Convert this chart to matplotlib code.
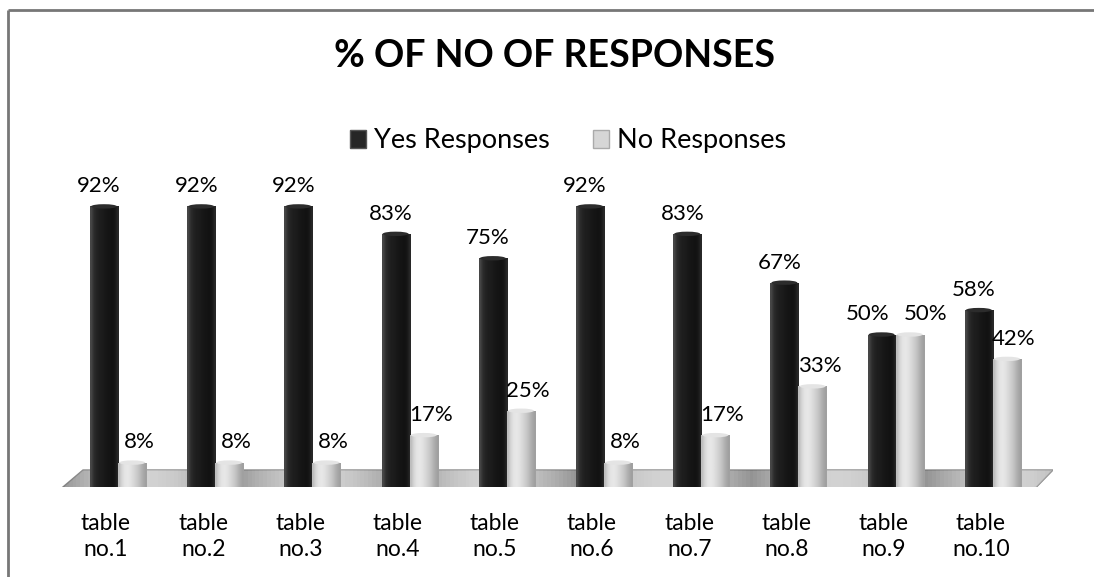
import numpy as np
import matplotlib
matplotlib.use("Agg")
import matplotlib.pyplot as plt
from matplotlib.patches import Rectangle, Ellipse, Polygon
from matplotlib.lines import Line2D

# data
categories = ["table\nno.1", "table\nno.2", "table\nno.3", "table\nno.4", "table\nno.5",
              "table\nno.6", "table\nno.7", "table\nno.8", "table\nno.9", "table\nno.10"]
yes_pct = [92, 92, 92, 83, 75, 92, 83, 67, 50, 58]
no_pct = [8, 8, 8, 17, 25, 8, 17, 33, 50, 42]
series_names = ["Yes Responses", "No Responses"]

plt.rcParams['font.family'] = ['Lato', 'DejaVu Sans']

W, H = 1094, 577
fig = plt.figure(figsize=(W / 100, H / 100), dpi=100)

# axes placed in pixel terms: floor from x=57 to 1053, baseline at y=487
left_px, right_px = 57, 1053
base_px, top_px = 487, 182
ax = fig.add_axes([left_px / W, (H - base_px) / H,
                   (right_px - left_px) / W, (base_px - top_px) / H])
unit = 97.2
x0_px = 104
ax.set_xlim(-(x0_px - left_px) / unit, (right_px - x0_px) / unit)
ax.set_ylim(0, 100)
ax.axis('off')

bw = 0.29
x = np.arange(len(categories))

# floor slab
px_y = 100 / (base_px - top_px)
xl, xr = ax.get_xlim()
fl_top, fl_bot = 17 * px_y, -5 * px_y
skew = 26 / unit
floor = Polygon([(xl, fl_bot), (xl + skew, fl_top), (xr, fl_top), (xr - 0.22, fl_bot)],
                closed=True, facecolor='#d4d4d4', edgecolor='#8a8a8a', lw=1.0, zorder=1)
ax.add_patch(floor)
grad = np.linspace(0, 1, 256).reshape(1, -1)
im = ax.imshow(np.abs(np.sin(grad * 18)) * 0.45 + 0.45, cmap='gray', vmin=0, vmax=1.1,
               extent=[xl, xr, fl_bot, fl_top], aspect='auto', zorder=1, alpha=0.6)
im.set_clip_path(floor)
edge = Polygon([(xl, fl_bot), (xr - 0.22, fl_bot), (xr - 0.22, fl_bot - 2 * px_y), (xl, fl_bot - 2 * px_y)],
               closed=True, facecolor='#9a9a9a', edgecolor='none', zorder=1)
ax.add_patch(edge)
ax.set_xlim(xl, xr)
ax.set_ylim(0, 100)


def cyl_bars(xs, vals, cmap_vals, cap_color):
    bars = ax.bar(xs, vals, width=bw, align='center', color='none', edgecolor='none', zorder=3)
    shade = np.array(cmap_vals).reshape(1, -1)
    for b in bars:
        bx, by = b.get_x(), b.get_y()
        bwid, bh = b.get_width(), b.get_height()
        img = ax.imshow(shade, cmap='gray', vmin=0, vmax=255,
                        extent=[bx, bx + bwid, by, by + bh], aspect='auto', zorder=3,
                        interpolation='bilinear')
        img.set_clip_path(b)
        cap = Ellipse((bx + bwid / 2, by + bh), bwid * 0.92, 2.2 * px_y * 2,
                      facecolor=cap_color, edgecolor='none', zorder=4)
        ax.add_patch(cap)
    return bars


dark_shade = [70, 45, 35, 30, 28, 25, 22, 20, 18, 22, 40]
light_shade = [190, 215, 228, 232, 228, 220, 210, 200, 185, 170, 160]
cyl_bars(x, yes_pct, dark_shade, '#2c2c2c')
cyl_bars(x + bw, no_pct, light_shade, '#e4e4e4')

ax.set_xlim(xl, xr)
ax.set_ylim(0, 100)

# data labels; pushed apart when the two values sit at the same height
for xi, yv, nv in zip(x, yes_pct, no_pct):
    spread = 0.09 if abs(yv - nv) < 8 else 0.0
    ax.text(xi - 0.05 - spread, yv + 6.6, f"{yv}%", ha='center', va='center',
            fontsize=16, zorder=5)
    ax.text(xi + bw + 0.07 + spread, nv + 6.6, f"{nv}%", ha='center', va='center',
            fontsize=16, zorder=5)

# category labels
for xi, lab in zip(x, categories):
    ax.text(xi + 0.02, -8.5, lab, ha='center', va='top', fontsize=16.5,
            linespacing=1.3, zorder=5)

# title and legend
fig.text(555 / W, 1 - 56 / H, "% OF NO OF RESPONSES", ha='center', va='center',
         fontsize=27, fontweight='bold')
handles = [Rectangle((0, 0), 1, 1, facecolor='#262626', edgecolor='#555555'),
           Rectangle((0, 0), 1, 1, facecolor='#d6d6d6', edgecolor='#aaaaaa')]
fig.legend(handles, series_names, loc='center', bbox_to_anchor=(568 / W, 1 - 141 / H),
           ncol=2, frameon=False, fontsize=19.5, handlelength=0.6, handleheight=0.6,
           handletextpad=0.3, columnspacing=1.6)

# chart border (top and left visible)
fig.add_artist(Line2D([8 / W, 1.01], [1 - 10 / H, 1 - 10 / H], color='#777777', lw=2,
                      solid_capstyle='butt'))
fig.add_artist(Line2D([8 / W, 8 / W], [-0.01, 1 - 10 / H], color='#777777', lw=2,
                      solid_capstyle='butt'))

fig.savefig("out.png", dpi=100, facecolor='white')
